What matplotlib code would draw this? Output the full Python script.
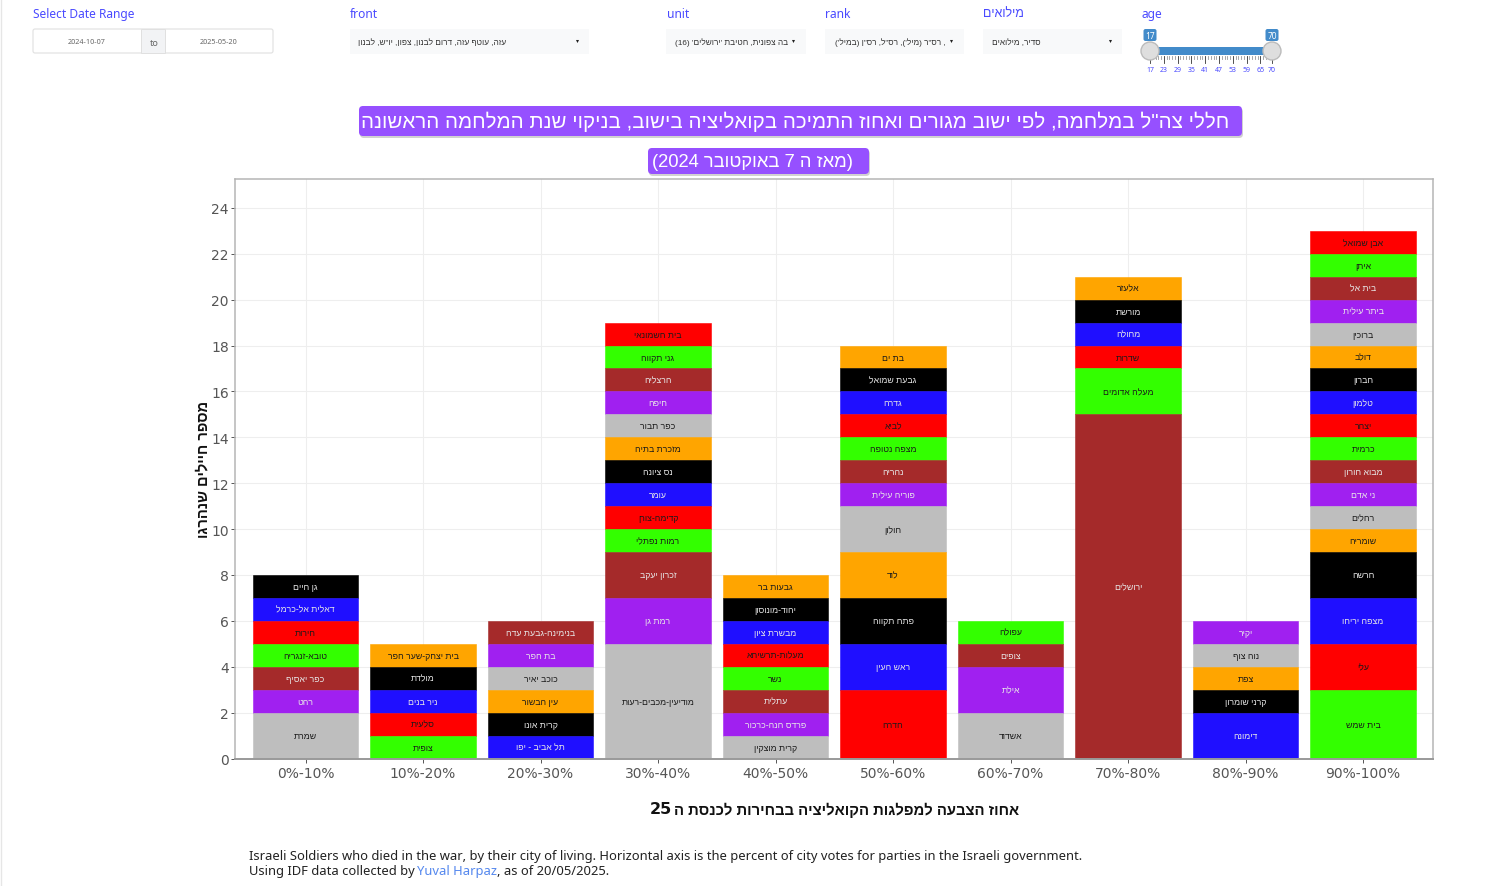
# plot.py
# soldiers per town, stacked by coalition vote bin

import re
import matplotlib
matplotlib.use("Agg")
import matplotlib.pyplot as plt
from matplotlib.patches import FancyBboxPatch, Rectangle, Circle

# -----------------------------------
# DATA (each stack is listed top to bottom)
# -----------------------------------
bins = ["0%-10%", "10%-20%", "20%-30%", "30%-40%", "40%-50%",
        "50%-60%", "60%-70%", "70%-80%", "80%-90%", "90%-100%"]

cities_0 = ["גן חיים", "דאלית אל-כרמל", "חירות", "טובא-זנגריה", "כפר יאסיף", "רהט", "שמרת"]
counts_0 = [1, 1, 1, 1, 1, 1, 2]

cities_1 = ["בית יצחק-שער חפר", "מולדת", "ניר בנים", "סלעית", "צופית"]
counts_1 = [1, 1, 1, 1, 1]

cities_2 = ["בנימינה-גבעת עדה", "בת חפר", "כוכב יאיר", "עין הבשור", "קרית אונו", "תל אביב - יפו"]
counts_2 = [1, 1, 1, 1, 1, 1]

cities_3 = ["בית חשמונאי", "גני תקווה", "הרצליה", "חיפה", "כפר תבור", "מזכרת בתיה", "נס ציונה",
            "עומר", "קדימה-צורן", "רמות נפתלי", "זכרון יעקב", "רמת גן", "מודיעין-מכבים-רעות"]
counts_3 = [1, 1, 1, 1, 1, 1, 1, 1, 1, 1, 2, 2, 5]

cities_4 = ["גבעות בר", "יהוד-מונוסון", "מבשרת ציון", "מעלות-תרשיחא", "נשר", "עתלית",
            "פרדס חנה-כרכור", "קרית מוצקין"]
counts_4 = [1, 1, 1, 1, 1, 1, 1, 1]

cities_5 = ["בת ים", "גבעת שמואל", "גדרה", "לביא", "מצפה נטופה", "נהריה", "פוריה עילית",
            "חולון", "לוד", "פתח תקווה", "ראש העין", "חדרה"]
counts_5 = [1, 1, 1, 1, 1, 1, 1, 2, 2, 2, 2, 3]

cities_6 = ["עפולה", "צופים", "אילת", "אשדוד"]
counts_6 = [1, 1, 2, 2]

cities_7 = ["אלעזר", "מורשת", "מחולה", "שדרות", "מעלה אדומים", "ירושלים"]
counts_7 = [1, 1, 1, 1, 2, 15]

cities_8 = ["יקיר", "נוה צוף", "צפת", "קרני שומרון", "דימונה"]
counts_8 = [1, 1, 1, 1, 2]

cities_9 = ["אבן שמואל", "איתן", "בית אל", "ביתר עילית", "ברוכין", "דולב", "חברון", "טלמון",
            "יצהר", "כרמית", "מבוא חורון", "ני אדם", "רחלים", "שומריה", "חרשה", "מצפה יריחו",
            "עלי", "בית שמש"]
counts_9 = [1, 1, 1, 1, 1, 1, 1, 1, 1, 1, 1, 1, 1, 1, 2, 2, 2, 3]

all_cities = [cities_0, cities_1, cities_2, cities_3, cities_4,
              cities_5, cities_6, cities_7, cities_8, cities_9]
all_counts = [counts_0, counts_1, counts_2, counts_3, counts_4,
              counts_5, counts_6, counts_7, counts_8, counts_9]

slider_labels = [17, 23, 29, 35, 41, 47, 53, 59, 65, 70]

# colour order runs on through all the stacks, top to bottom
colors = ["#ffa500", "#000000", "#1f0fff", "#ff0000", "#33ff00", "#a52a2a", "#a020f0", "#bebebe"]
light_text = ["#000000", "#1f0fff", "#a52a2a", "#a020f0"]

BLUE = "#4a4aff"
SANS = ["Noto Sans", "DejaVu Sans"]
HEB = ["Liberation Sans", "DejaVu Sans"]


def rtl(s):
    # matplotlib has no bidi, so put the string in visual order
    s = re.sub(r"\d+", lambda m: m.group()[::-1], s[::-1])
    return s.translate(str.maketrans("()", ")("))


# -----------------------------------
# CHART
# -----------------------------------
W, H = 1503, 887
fig = plt.figure(figsize=(W / 100, H / 100), dpi=100, facecolor="white")
ax = fig.add_axes([235 / W, 1 - 759.5 / H, (1433 - 235) / W, (759.5 - 180) / H])

ax.set_xlim(-0.6, 9.595)
ax.set_ylim(0, 25.26)
ax.set_axisbelow(True)
ax.grid(color="#eeeeee", linewidth=0.75)

color_i = 1
for i, (cities, counts) in enumerate(zip(all_cities, all_counts)):
    top = sum(counts)
    for city, n in zip(cities, counts):
        c = colors[color_i % len(colors)]
        color_i += 1
        bottom = top - n
        ax.bar(i, n, bottom=bottom, width=0.9, color=c, edgecolor=c, linewidth=0.4)
        ax.text(i, bottom + n / 2, rtl(city), ha="center", va="center", fontsize=6.3,
                family=HEB, color="#e8e8e8" if c in light_text else "#1a1a1a")
        top = bottom

ax.set_xticks(range(len(bins)))
ax.set_xticklabels(bins)
ax.set_yticks(range(0, 25, 2))
ax.tick_params(axis="x", length=3, width=0.7, pad=2.5, color="#555555", labelcolor="#555555", labelsize=10)
ax.tick_params(axis="y", length=3, width=0.7, pad=1.5, color="#555555", labelcolor="#555555", labelsize=10)
for s in ax.spines.values():
    s.set_color("#b5b5b5")
    s.set_linewidth(1.1)
ax.spines["bottom"].set_color("#999999")
ax.spines["bottom"].set_linewidth(1.4)

# -----------------------------------
# OVERLAY IN PIXELS (controls, titles, notes)
# -----------------------------------
ov = fig.add_axes([0, 0, 1, 1], facecolor="none")
ov.set_xlim(0, W)
ov.set_ylim(H - 1, -1)
ov.axis("off")

ov.plot([0.5, 0.5], [0, H], color="#e6e6e6", linewidth=1)

# widget labels
for x, t in [(33, "Select Date Range"), (350, "front"), (667, "unit"), (825, "rank"), (1142, "age")]:
    ov.text(x, 13, t, color=BLUE, fontsize=8.6, family=SANS, va="center")
ov.text(983, 13, rtl("מילואים"), color=BLUE, fontsize=9, family=HEB, va="center")

# date range
ov.add_patch(FancyBboxPatch((33, 29), 240, 24, boxstyle="round,pad=0,rounding_size=2",
                            fc="white", ec="#e0e0e0", lw=0.8))
ov.add_patch(Rectangle((141, 29), 24, 24, fc="#f2f3f5", ec="#e0e0e0", lw=0.7))
ov.text(87, 41, "2024-10-07", fontsize=5.2, color="#666666", ha="center", va="center", family=SANS)
ov.text(219, 41, "2025-05-20", fontsize=5.2, color="#666666", ha="center", va="center", family=SANS)
ov.text(154.5, 42, "to", fontsize=6.5, color="#666666", ha="center", va="center", family=SANS)

# dropdowns
dropdowns = [
    (350, 589, 577, 506, "עזה, עוטף עזה, דרום לבנון, צפון, יו\"ש, לבנון"),
    (666, 806, 793, 788, "בה צפונית, חטיבת 'ירושלים' (16)"),
    (825, 964, 951, 946, ", רס\"ר (מיל'), רס\"ל, רס\"ן (במיל')"),
    (983, 1122, 1110, 1041, "סדיר, מילואים"),
]
for x0, x1, caret, tx, label in dropdowns:
    ov.add_patch(Rectangle((x0, 29), x1 - x0, 25, fc="#f8f9fa", ec="none"))
    ov.text(tx, 42, rtl(label), fontsize=5.95, color="#333333", ha="right", va="center", family=HEB)
    ov.plot([caret], [41], marker="v", markersize=2.2, markeredgewidth=0, color="#222222")


# age slider
def slider_x(v):
    return 1150 + (v - 17) / 53 * 122


ov.add_patch(Rectangle((1150, 47), 122, 8, fc="#428bca", ec="none", zorder=2))
for k in range(0, 45):
    v = 17 + k * 1.2
    major = k % 5 == 0
    ov.plot([slider_x(v)] * 2, [56, 63 if major else 59], color="#333333" if major else "#999999",
            linewidth=0.6, zorder=1)
ov.plot([slider_x(70)] * 2, [56, 63], color="#333333", linewidth=0.6, zorder=1)
for v in slider_labels:
    ov.text(slider_x(v), 69, str(v), fontsize=5, color=BLUE, ha="center", va="center", family=SANS)
for v in (17, 70):
    x = slider_x(v)
    ov.add_patch(Circle((x, 51), 9, fc="#dedede", ec="#bbbbbb", lw=1, zorder=3))
    ov.add_patch(FancyBboxPatch((x - 6.5, 29), 13, 12, boxstyle="round,pad=0,rounding_size=2",
                                fc="#428bca", ec="none", zorder=3))
    ov.text(x, 35, str(v), fontsize=6, color="white", ha="center", va="center", family=SANS, zorder=4)

# purple title boxes
title_boxes = [
    (359, 106, 883, 30, 795, 121, 14.75, "חללי צה\"ל במלחמה, לפי ישוב מגורים ואחוז התמיכה בקואליציה בישוב, בניקוי שנת המלחמה הראשונה"),
    (648, 148, 221, 26, 753, 161, 13.2, "(מאז ה 7 באוקטובר 2024)"),
]
for x, y, w, h, tx, ty, size, label in title_boxes:
    ov.add_patch(FancyBboxPatch((x + 1, y + 2), w, h, boxstyle="round,pad=0,rounding_size=4",
                                fc="#000000", ec="none", alpha=0.18))
    ov.add_patch(FancyBboxPatch((x, y), w, h, boxstyle="round,pad=0,rounding_size=4",
                                fc="#9650ff", ec="none"))
    ov.text(tx, ty, rtl(label), fontsize=size, color="white", ha="center", va="center", family=HEB)

# axis titles, the 25 sits in a wider bold font
ov.text(1019, 809, rtl("אחוז הצבעה למפלגות הקואליציה בבחירות לכנסת ה"), fontsize=10.7,
        fontweight="bold", ha="right", va="center", family=HEB, color="#111111")
ov.text(650, 809, "25", fontsize=11.5, fontweight="bold", ha="left", va="center",
        family="DejaVu Sans", color="#111111")
ov.text(203, 468, rtl("מספר חיילים שנהרגו"), fontsize=10.5, fontweight="bold", rotation=90,
        ha="center", va="center", family=HEB, color="#111111")

# notes
note_size = 9.34
ov.text(249, 855.5, "Israeli Soldiers who died in the war, by their city of living. Horizontal axis is the "
        "percent of city votes for parties in the Israeli government.",
        fontsize=note_size, color="#222222", va="center", family=SANS)
t1 = ov.text(249, 870.5, "Using IDF data collected by ", fontsize=note_size, color="#222222", va="center", family=SANS)
fig.canvas.draw()
x1 = t1.get_window_extent().x1 - 1
t2 = ov.text(x1, 870.5, "Yuval Harpaz", fontsize=note_size, color="#5588ee", va="center", family=SANS)
x2 = t2.get_window_extent().x1
ov.text(x2, 870.5, ", as of 20/05/2025.", fontsize=note_size, color="#222222", va="center", family=SANS)

plt.savefig("out.png", dpi=100)
